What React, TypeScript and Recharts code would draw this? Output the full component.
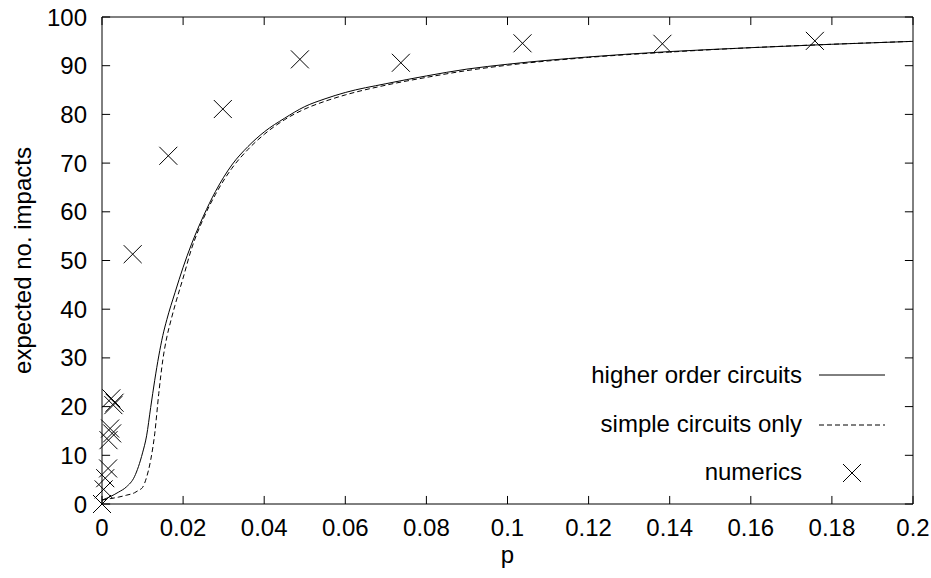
import {
  ComposedChart,
  Line,
  Scatter,
  XAxis,
  YAxis,
  Label,
  ReferenceLine,
} from "recharts";

// "higher order circuits" curve (solid)
const higherX = [0, 0.002, 0.004, 0.006, 0.008, 0.01, 0.011, 0.012, 0.013, 0.014, 0.015, 0.016, 0.018, 0.02, 0.022, 0.025, 0.028, 0.032, 0.036, 0.04, 0.045, 0.05, 0.055, 0.06, 0.07, 0.08, 0.09, 0.1, 0.12, 0.14, 0.16, 0.18, 0.2];
const higherY = [0.8, 1.5, 2.4, 3.5, 5.6, 10.5, 14, 19.8, 25.4, 30.4, 34.6, 37.9, 43.4, 48.6, 53.2, 59.1, 64.2, 69.6, 73.4, 76.4, 79.2, 81.6, 83.2, 84.5, 86.3, 87.9, 89.3, 90.3, 91.8, 92.9, 93.7, 94.4, 95];

// "simple circuits only" curve (dashed)
const simpleX = [0, 0.002, 0.004, 0.006, 0.008, 0.009, 0.01, 0.011, 0.012, 0.013, 0.014, 0.015, 0.016, 0.017, 0.018, 0.02, 0.022, 0.025, 0.028, 0.032, 0.036, 0.04, 0.045, 0.05, 0.055, 0.06, 0.07, 0.08, 0.09, 0.1, 0.12, 0.14, 0.16, 0.18, 0.2];
const simpleY = [0.8, 1.1, 1.4, 1.8, 2.3, 2.8, 3.4, 5.5, 9.0, 14.4, 22.7, 29.6, 34.3, 37.7, 40.8, 46.4, 52.2, 58.6, 63.6, 68.9, 72.8, 75.9, 78.9, 81.1, 82.7, 84, 86, 87.6, 89, 90.1, 91.7, 92.8, 93.7, 94.4, 95];

// numerics (crosses)
const numericsX = [0, 0.0004, 0.0008, 0.0015, 0.0016, 0.002, 0.0025, 0.0023, 0.0028, 0.0031, 0.00757, 0.01635, 0.0298, 0.0488, 0.0737, 0.1037, 0.1382, 0.1758];
const numericsY = [0, 3, 5.3, 7.3, 13.1, 15.5, 14.5, 21.7, 20.3, 20.8, 51.3, 71.5, 81.1, 91.3, 90.6, 94.6, 94.5, 95.1];

const xTicks = [0, 0.02, 0.04, 0.06, 0.08, 0.1, 0.12, 0.14, 0.16, 0.18, 0.2];
const yTicks = [0, 10, 20, 30, 40, 50, 60, 70, 80, 90, 100];

const higherData = higherX.map((x, i) => ({ x, y: higherY[i] }));
const simpleData = simpleX.map((x, i) => ({ x, y: simpleY[i] }));
const numericsData = numericsX.map((x, i) => ({ x, y: numericsY[i] }));

const FONT = "'Liberation Sans', Arial, Helvetica, sans-serif";
const FS = 24;
const tickStyle = { fill: "#000", fontSize: FS, fontFamily: FONT };

// inward tick length (~8px) in data units
const TICK_Y = 1.65;
const TICK_X = 0.002;

const Cross = (props: any) => {
  const { cx, cy } = props;
  const r = 9;
  return (
    <path
      d={`M${cx - r},${cy - r}L${cx + r},${cy + r}M${cx - r},${cy + r}L${cx + r},${cy - r}`}
      stroke="#000"
      strokeWidth={1}
      fill="none"
    />
  );
};

export default function App() {
  return (
    <div style={{ position: "relative", width: 931, height: 578, background: "#fff" }}>
      <style>{`body{margin:0;background:#fff}`}</style>
      <ComposedChart
        width={931}
        height={578}
        margin={{ top: 17, right: 18, bottom: 0, left: 0 }}
      >
        <XAxis
          xAxisId="b"
          type="number"
          dataKey="x"
          domain={[0, 0.2]}
          ticks={xTicks}
          height={74}
          tickSize={0}
          tickLine={false}
          tickMargin={15}
          tick={tickStyle}
          stroke="#000"
          interval={0}
        >
          <Label
            value="p"
            position="insideBottom"
            offset={15}
            style={{ fill: "#000", fontSize: FS, fontFamily: FONT }}
          />
        </XAxis>
        <YAxis
          yAxisId="l"
          type="number"
          dataKey="y"
          domain={[0, 100]}
          ticks={yTicks}
          width={102}
          tickSize={0}
          tickLine={false}
          tickMargin={15}
          tick={tickStyle}
          stroke="#000"
          interval={0}
        >
          <Label
            value="expected no. impacts"
            angle={-90}
            position="insideLeft"
            offset={22}
            style={{ fill: "#000", fontSize: FS, fontFamily: FONT, textAnchor: "middle" }}
          />
        </YAxis>
        {/* top and right borders */}
        <XAxis
          xAxisId="tm"
          orientation="top"
          mirror
          type="number"
          domain={[0, 0.2]}
          height={20}
          tick={false}
          tickLine={false}
          stroke="#000"
        />
        <YAxis
          yAxisId="rm"
          orientation="right"
          mirror
          type="number"
          domain={[0, 100]}
          width={20}
          tick={false}
          tickLine={false}
          stroke="#000"
        />
        {/* inward tick marks on all four sides */}
        {xTicks.map((t) => (
          <ReferenceLine
            key={`xb${t}`}
            xAxisId="b"
            yAxisId="l"
            segment={[{ x: t, y: 0 }, { x: t, y: TICK_Y }]}
            stroke="#000"
            strokeWidth={1}
          />
        ))}
        {xTicks.map((t) => (
          <ReferenceLine
            key={`xt${t}`}
            xAxisId="b"
            yAxisId="l"
            segment={[{ x: t, y: 100 }, { x: t, y: 100 - TICK_Y }]}
            stroke="#000"
            strokeWidth={1}
          />
        ))}
        {yTicks.map((t) => (
          <ReferenceLine
            key={`yl${t}`}
            xAxisId="b"
            yAxisId="l"
            segment={[{ x: 0, y: t }, { x: TICK_X, y: t }]}
            stroke="#000"
            strokeWidth={1}
          />
        ))}
        {yTicks.map((t) => (
          <ReferenceLine
            key={`yr${t}`}
            xAxisId="b"
            yAxisId="l"
            segment={[{ x: 0.2, y: t }, { x: 0.2 - TICK_X, y: t }]}
            stroke="#000"
            strokeWidth={1}
          />
        ))}
        <Line
          xAxisId="b"
          yAxisId="l"
          data={higherData}
          dataKey="y"
          type="monotone"
          stroke="#000"
          strokeWidth={1}
          dot={false}
          isAnimationActive={false}
        />
        <Line
          xAxisId="b"
          yAxisId="l"
          data={simpleData}
          dataKey="y"
          type="monotone"
          stroke="#000"
          strokeWidth={1}
          strokeDasharray="5 3"
          dot={false}
          isAnimationActive={false}
        />
        <Scatter
          xAxisId="b"
          yAxisId="l"
          data={numericsData}
          dataKey="y"
          shape={Cross}
          isAnimationActive={false}
        />
      </ComposedChart>
      <svg
        width={931}
        height={578}
        style={{ position: "absolute", left: 0, top: 0, pointerEvents: "none" }}
      >
        <g fontFamily={FONT} fontSize={FS} fill="#000" textAnchor="end">
          <text x={802} y={383}>higher order circuits</text>
          <text x={802} y={432}>simple circuits only</text>
          <text x={802} y={480}>numerics</text>
        </g>
        <line x1={819} y1={375} x2={885} y2={375} stroke="#000" strokeWidth={1} />
        <line x1={819} y1={425} x2={885} y2={425} stroke="#000" strokeWidth={1} strokeDasharray="5 3" />
        <path d="M843,464L861,482M843,482L861,464" stroke="#000" strokeWidth={1} fill="none" />
      </svg>
    </div>
  );
}
